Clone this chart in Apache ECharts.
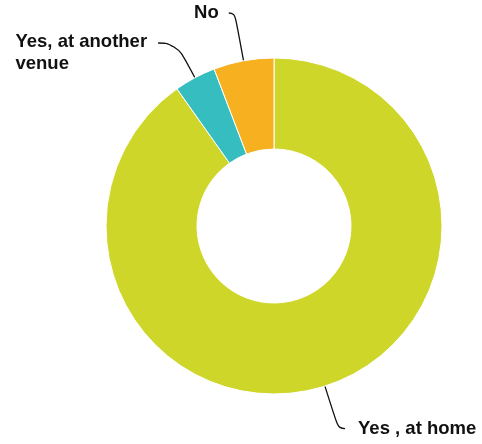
<!DOCTYPE html>
<html>
<head>
<meta charset="utf-8">
<script src="https://cdn.jsdelivr.net/npm/echarts@6/dist/echarts.min.js"></script>
<style>
  html, body { margin: 0; padding: 0; background: #fff; }
  #chart { width: 482px; height: 444px; }
</style>
</head>
<body>
<div id="chart"></div>
<script>
// Where the event was held (share of responses, %)
const categories = ['Yes , at home', 'Yes, at another\nvenue', 'No'];
const shares = [90.2, 4.0, 5.8];
const colors = ['#CFD62A', '#35BDBF', '#F7B020'];

// Leader line settings per slice: radial length, horizontal tail, gap to text, text shift
const leaderLength = [44.7, 39.4, 48.6];
const leaderTail = [6.6, 18.3, 6];
const textGap = [13, 11, 10];
const textShiftY = [0, 10, 0];

const chart = echarts.init(document.getElementById('chart'), null, { renderer: 'canvas' });

chart.setOption({
  animation: false,
  series: [{
    type: 'pie',
    center: [274, 226],
    radius: [77, 168],
    startAngle: 90,
    clockwise: true,
    avoidLabelOverlap: false,
    itemStyle: { borderColor: '#ffffff', borderWidth: 1 },
    label: {
      show: true,
      position: 'outside',
      color: '#111111',
      fontFamily: 'Liberation Sans, Arial, sans-serif',
      fontWeight: 'bold',
      fontSize: 18.5,
      lineHeight: 22,
      // every line of a label starts flush left inside its block
      formatter: function (p) {
        return p.name.split('\n').map(function (s) { return '{t|' + s + '}'; }).join('\n');
      },
      rich: {
        t: {
          align: 'left',
          color: '#111111',
          fontFamily: 'Liberation Sans, Arial, sans-serif',
          fontWeight: 'bold',
          fontSize: 18.5,
          lineHeight: 22
        }
      }
    },
    labelLine: {
      show: true,
      smooth: 0.5,
      lineStyle: { color: '#111111', width: 1.3 }
    },
    labelLayout: function (params) {
      return { dy: textShiftY[params.dataIndex] };
    },
    data: categories.map((name, i) => ({
      name: name,
      value: shares[i],
      itemStyle: { color: colors[i] },
      label: { distanceToLabelLine: textGap[i] },
      labelLine: { length: leaderLength[i], length2: leaderTail[i] }
    }))
  }]
});
</script>
</body>
</html>
